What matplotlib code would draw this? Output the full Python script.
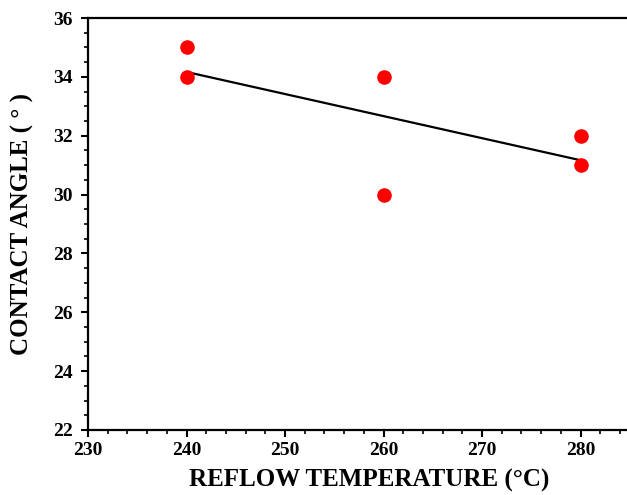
import matplotlib
matplotlib.use("Agg")
import matplotlib.pyplot as plt
import numpy as np
from matplotlib.ticker import MultipleLocator

temps = [240, 240, 260, 260, 280, 280]
angles = [35, 34, 34, 30, 32, 31]
fit_x = [240, 280]

plt.rcParams['font.family'] = ['Liberation Serif']
plt.rcParams['font.weight'] = 'bold'

fig = plt.figure(figsize=(6.27, 4.95), dpi=100)
ax = fig.add_axes([88/627, 65/495, (627-88)/627 + 0.01, (430-18)/495])

slope, intercept = np.polyfit(temps, angles, 1)
fx = np.array(fit_x)
ax.plot(fx, slope*fx + intercept, color='black', lw=1.6, zorder=2)
ax.plot(temps, angles, 'o', color='#ff0000', markersize=10.5, markeredgewidth=0, zorder=3)

ax.set_xlim(230, 230 + (627-88)/9.85 + 0.01*627/9.85)
ax.set_ylim(22, 36)
ax.xaxis.set_major_locator(MultipleLocator(10))
ax.xaxis.set_minor_locator(MultipleLocator(2))
ax.yaxis.set_major_locator(MultipleLocator(2))
ax.yaxis.set_minor_locator(MultipleLocator(0.5))
ax.tick_params(which='major', direction='out', length=5, width=1.5, labelsize=14)
ax.tick_params(axis='y', which='major', pad=6)
ax.tick_params(which='minor', direction='out', length=3, width=1.2)
for lab in ax.get_xticklabels() + ax.get_yticklabels():
    lab.set_fontweight('bold')
for s in ['left', 'bottom', 'top']:
    ax.spines[s].set_linewidth(1.6)
ax.spines['right'].set_visible(False)

ax.set_xlabel('REFLOW TEMPERATURE (°C)', fontsize=18, fontweight='bold')
ax.xaxis.set_label_coords(0.515, -0.095)
ax.set_ylabel('CONTACT ANGLE ( ° )', fontsize=18, fontweight='bold', labelpad=14)

fig.savefig('out.png', dpi=100)
